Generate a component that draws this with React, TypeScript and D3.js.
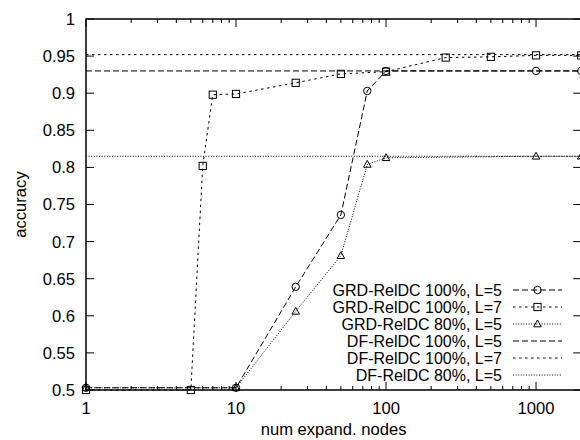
import React from "react";
import * as d3 from "d3";

const grdL5X = [1, 10, 25, 50, 75, 100, 1000, 2000];
const grdL5Y = [0.503, 0.503, 0.639, 0.736, 0.903, 0.93, 0.93, 0.93];
const grdL7X = [1, 5, 6, 7, 10, 25, 50, 100, 250, 500, 1000, 2000];
const grdL7Y = [0.5, 0.5, 0.802, 0.898, 0.899, 0.914, 0.926, 0.929, 0.948, 0.949, 0.951, 0.951];
const grd80X = [1, 10, 25, 50, 75, 100, 1000, 2000];
const grd80Y = [0.503, 0.503, 0.606, 0.681, 0.804, 0.813, 0.815, 0.815];
const dfL5 = 0.93;
const dfL7 = 0.952;
const df80 = 0.815;
const xTickValues = [1, 10, 100, 1000];
const yTickValues = [0.5, 0.55, 0.6, 0.65, 0.7, 0.75, 0.8, 0.85, 0.9, 0.95, 1];
const legendLabels = [
  "GRD-RelDC 100%, L=5",
  "GRD-RelDC 100%, L=7",
  "GRD-RelDC 80%, L=5",
  "DF-RelDC 100%, L=5",
  "DF-RelDC 100%, L=7",
  "DF-RelDC 80%, L=5",
];

const W = 580;
const H = 440;
const left = 86;
const top = 19;
const bottom = 390;
const right = 581.2;
const FONT = "'Liberation Sans', Arial, Helvetica, sans-serif";
const FS = 16.6;
const LEG_FS = 16;

const DASH_LONG = "6,3";
const DASH_SHORT = "2.5,3.5";
const DASH_DOT = "1,1.6";

export default function App() {
  const x = d3.scaleLog().domain([1, 2000]).range([left, right]);
  const y = d3.scaleLinear().domain([0.5, 1]).range([bottom, top]);
  const line = d3
    .line<[number, number]>()
    .x((d) => x(d[0]))
    .y((d) => y(d[1]));

  const zip = (xs: number[], ys: number[]) => xs.map((v, i) => [v, ys[i]] as [number, number]);
  const s1 = zip(grdL5X, grdL5Y);
  const s2 = zip(grdL7X, grdL7Y);
  const s3 = zip(grd80X, grd80Y);

  const minor: number[] = [];
  for (let dec = 1; dec <= 1000; dec *= 10) {
    for (let m = 2; m <= 9; m++) {
      const v = dec * m;
      if (v <= 2000) minor.push(v);
    }
  }

  const circle = (cx: number, cy: number, k: string) => (
    <circle key={k} cx={cx} cy={cy} r={3.7} fill="none" stroke="#000" strokeWidth={1} />
  );
  const square = (cx: number, cy: number, k: string) => (
    <rect key={k} x={cx - 3.6} y={cy - 3.6} width={7.2} height={7.2} fill="none" stroke="#000" strokeWidth={1} />
  );
  const tri = (cx: number, cy: number, k: string) => (
    <path
      key={k}
      d={`M${cx},${cy - 4} L${cx + 3.8},${cy + 2.8} L${cx - 3.8},${cy + 2.8} Z`}
      fill="none"
      stroke="#000"
      strokeWidth={1}
    />
  );

  const legX1 = 513;
  const legX2 = 562;
  const legTextX = 502;
  const legY0 = 290;
  const legDy = 17;
  const legendStyles = [
    { dash: DASH_LONG, marker: circle },
    { dash: DASH_SHORT, marker: square },
    { dash: DASH_DOT, marker: tri },
    { dash: DASH_LONG, marker: null },
    { dash: DASH_SHORT, marker: null },
    { dash: DASH_DOT, marker: null },
  ];

  return (
    <svg
      width={W}
      height={H}
      style={{ position: "absolute", left: 0, top: 0, background: "#fff" }}
      fontFamily={FONT}
    >
      <rect x={0} y={0} width={W} height={H} fill="#fff" />
      {/* y ticks */}
      {yTickValues.map((v) => (
        <g key={"y" + v}>
          <line x1={left} x2={left + 8} y1={y(v)} y2={y(v)} stroke="#000" strokeWidth={1} />
          <line x1={right} x2={right - 8} y1={y(v)} y2={y(v)} stroke="#000" strokeWidth={1} />
          <text x={75} y={y(v)} dy="0.36em" textAnchor="end" fontSize={FS} fill="#000">
            {String(v)}
          </text>
        </g>
      ))}
      {/* x ticks */}
      {xTickValues.map((v) => (
        <g key={"x" + v}>
          <line x1={x(v)} x2={x(v)} y1={bottom} y2={bottom - 8} stroke="#000" strokeWidth={1} />
          <line x1={x(v)} x2={x(v)} y1={top} y2={top + 8} stroke="#000" strokeWidth={1} />
          <text x={x(v)} y={408} dy="0.36em" textAnchor="middle" fontSize={FS} fill="#000">
            {String(v)}
          </text>
        </g>
      ))}
      {minor.map((v) => (
        <g key={"m" + v}>
          <line x1={x(v)} x2={x(v)} y1={bottom} y2={bottom - 4} stroke="#000" strokeWidth={1} />
          <line x1={x(v)} x2={x(v)} y1={top} y2={top + 4} stroke="#000" strokeWidth={1} />
        </g>
      ))}
      {/* DF horizontal lines */}
      <line x1={left} x2={right} y1={y(dfL5)} y2={y(dfL5)} stroke="#000" strokeWidth={1} strokeDasharray={DASH_LONG} />
      <line x1={left} x2={right} y1={y(dfL7)} y2={y(dfL7)} stroke="#000" strokeWidth={1} strokeDasharray={DASH_SHORT} />
      <line x1={left} x2={right} y1={y(df80)} y2={y(df80)} stroke="#000" strokeWidth={1} strokeDasharray={DASH_DOT} />
      {/* GRD series */}
      <path d={line(s1) || ""} fill="none" stroke="#000" strokeWidth={1} strokeDasharray={DASH_LONG} />
      <path d={line(s2) || ""} fill="none" stroke="#000" strokeWidth={1} strokeDasharray={DASH_SHORT} />
      <path d={line(s3) || ""} fill="none" stroke="#000" strokeWidth={1} strokeDasharray={DASH_DOT} />
      {s1.map((d, i) => circle(x(d[0]), y(d[1]), "c" + i))}
      {s2.map((d, i) => square(x(d[0]), y(d[1]), "s" + i))}
      {s3.map((d, i) => tri(x(d[0]), y(d[1]), "t" + i))}
      {/* frame */}
      <rect x={left} y={top} width={right - left} height={bottom - top} fill="none" stroke="#000" strokeWidth={1.5} />
      {/* legend */}
      {legendLabels.map((lab, i) => {
        const ly = legY0 + i * legDy;
        const st = legendStyles[i];
        return (
          <g key={"l" + i}>
            <text x={legTextX} y={ly} dy="0.36em" textAnchor="end" fontSize={LEG_FS} fill="#000">
              {lab}
            </text>
            <line x1={legX1} x2={legX2} y1={ly} y2={ly} stroke="#000" strokeWidth={1} strokeDasharray={st.dash} />
            {st.marker ? st.marker((legX1 + legX2) / 2, ly, "lm" + i) : null}
          </g>
        );
      })}
      {/* axis labels */}
      <text x={(left + right) / 2} y={435} textAnchor="middle" fontSize={FS} fill="#000">
        num expand. nodes
      </text>
      <text
        transform={`translate(20,${(top + bottom) / 2}) rotate(-90)`}
        textAnchor="middle"
        dy="0.36em"
        fontSize={FS}
        fill="#000"
      >
        accuracy
      </text>
    </svg>
  );
}
